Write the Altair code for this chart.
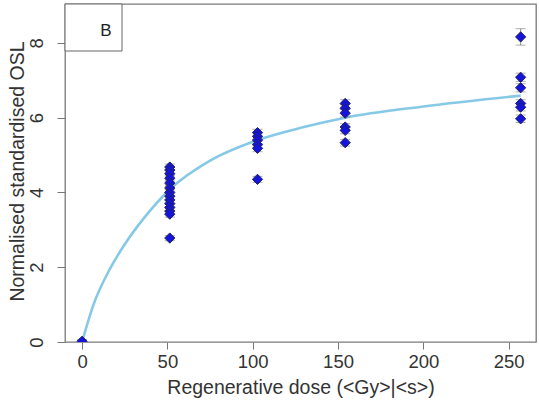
import altair as alt
import pandas as pd

# Regenerative doses (Gy) and the normalised, standardised OSL of each aliquot
dose_0 = 0.0
dose_1 = 51.4
dose_2 = 102.8
dose_3 = 154.2
dose_4 = 257.0

osl_0 = [0.02]
osl_1 = [4.68, 4.60, 4.50, 4.38, 4.25, 4.12, 4.00, 3.90, 3.80, 3.70, 3.60, 3.50, 3.42, 2.78]
osl_2 = [5.60, 5.50, 5.40, 5.28, 5.18, 4.35]
osl_3 = [6.38, 6.25, 6.12, 5.75, 5.66, 5.33]
osl_4 = [8.16, 7.08, 6.80, 6.38, 6.28, 5.97]

err_0 = [0.05]
err_1 = [0.08, 0.08, 0.08, 0.08, 0.08, 0.08, 0.08, 0.08, 0.08, 0.08, 0.08, 0.08, 0.08, 0.07]
err_2 = [0.09, 0.09, 0.09, 0.09, 0.09, 0.08]
err_3 = [0.10, 0.10, 0.10, 0.09, 0.09, 0.09]
err_4 = [0.22, 0.11, 0.11, 0.10, 0.10, 0.10]

# Fitted dose-response curve
curve_dose = [0, 6.7, 16.5, 26, 36, 51.4, 75, 102.8, 130, 154.2, 200, 257]
curve_osl = [0, 1.0, 1.97, 2.68, 3.3, 4.08, 4.85, 5.4, 5.75, 6.0, 6.3, 6.59]

x_ticks = [0, 50, 100, 150, 200, 250]
y_ticks = [0, 2, 4, 6, 8]

rows = []
for d, ys, es in [(dose_0, osl_0, err_0), (dose_1, osl_1, err_1), (dose_2, osl_2, err_2),
                  (dose_3, osl_3, err_3), (dose_4, osl_4, err_4)]:
    for y, e in zip(ys, es):
        rows.append({"dose": d, "osl": y, "lo": y - e, "hi": y + e})
pts = pd.DataFrame(rows)
curve = pd.DataFrame({"dose": curve_dose, "osl": curve_osl})

FONT = "Liberation Sans"
xscale = alt.Scale(domain=[-10, 266], nice=False, zero=False)
yscale = alt.Scale(domain=[0, 9.04], nice=False, zero=False)

xaxis = alt.Axis(
    values=x_ticks, title="Regenerative dose (<Gy>|<s>)", grid=False, domain=False,
    tickSize=7, tickColor="#777777", labelPadding=3, labelFontSize=18.5, labelColor="#333333",
    labelFont=FONT, titleFont=FONT, titleFontSize=19.5, titleFontWeight="normal",
    titleColor="#333333", titleBaseline="alphabetic", titleY=51,
)
yaxis = alt.Axis(
    values=y_ticks, title="Normalised standardised OSL", grid=False, domain=False,
    tickSize=8, tickColor="#777777", labelPadding=15, labelFontSize=18.5, labelColor="#333333",
    labelAngle=270, labelAlign="center", labelBaseline="alphabetic",
    labelFont=FONT, titleFont=FONT, titleFontSize=19.5, titleFontWeight="normal",
    titleColor="#333333", titleAngle=270, titleAlign="center", titleBaseline="alphabetic",
    titleX=-42, titleY=167,
)

line = alt.Chart(curve).mark_line(
    color="#86C9E6", strokeWidth=2.6, interpolate="monotone", clip=True
).encode(
    x=alt.X("dose:Q", scale=xscale, axis=xaxis),
    y=alt.Y("osl:Q", scale=yscale, axis=yaxis),
)

bars = alt.Chart(pts).mark_rule(color="#8a8a8a", strokeWidth=1, clip=True).encode(
    x=alt.X("dose:Q", scale=xscale),
    y=alt.Y("lo:Q", scale=yscale),
    y2="hi:Q",
)
caps_lo = alt.Chart(pts).mark_tick(
    color="#8a8a8a", orient="horizontal", size=10, thickness=1, clip=True
).encode(x=alt.X("dose:Q", scale=xscale), y=alt.Y("lo:Q", scale=yscale))
caps_hi = alt.Chart(pts).mark_tick(
    color="#8a8a8a", orient="horizontal", size=10, thickness=1, clip=True
).encode(x=alt.X("dose:Q", scale=xscale), y=alt.Y("hi:Q", scale=yscale))

points = alt.Chart(pts).mark_point(
    shape="diamond", filled=True, size=105, fill="#1414DC", stroke="#25255a",
    strokeWidth=1, opacity=1, clip=True
).encode(x=alt.X("dose:Q", scale=xscale), y=alt.Y("osl:Q", scale=yscale))

# Panel label box in the top-left corner
label_box = alt.Chart(pd.DataFrame({"t": ["B"]})).mark_rect(
    fill="white", stroke="#666666", strokeWidth=1
).encode(x=alt.value(0), x2=alt.value(57), y=alt.value(0), y2=alt.value(47))
label_text = alt.Chart(pd.DataFrame({"t": ["B"]})).mark_text(
    font=FONT, fontSize=17, color="#222222", align="center", baseline="middle"
).encode(x=alt.value(41), y=alt.value(27), text="t:N")

chart = alt.layer(line, bars, caps_lo, caps_hi, points, label_box, label_text).properties(
    width=471, height=338,
    autosize=alt.AutoSizeParams(type="none"),
    padding={"left": 65, "top": 4, "right": 3, "bottom": 60},
    background="white",
).configure_view(stroke="#7a7a7a", strokeWidth=1.3)

chart.save("out.html", embed_options={"renderer": "svg", "actions": False})
